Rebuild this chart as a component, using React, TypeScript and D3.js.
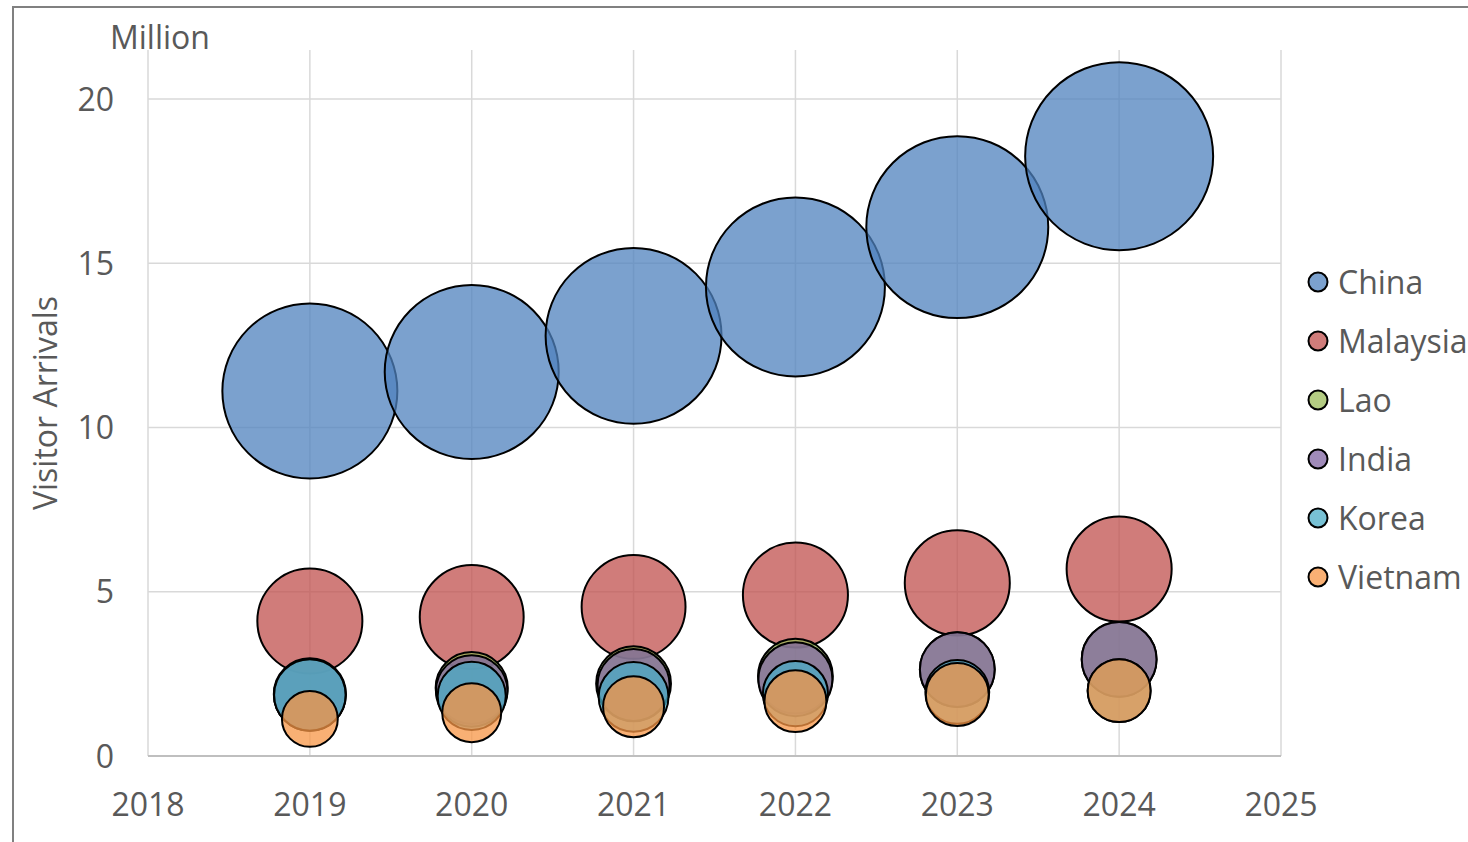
import React from 'react';
import * as d3 from 'd3';

const years = [2019, 2020, 2021, 2022, 2023, 2024];
const seriesNames = ['China', 'Malaysia', 'Lao', 'India', 'Korea', 'Vietnam'];
const colors = ['#4F81BD', '#C0504D', '#9BBB59', '#8064A2', '#4BACC6', '#F79646'];

// visitor arrivals, million
const china = [11.11, 11.69, 12.79, 14.28, 16.1, 18.26];
const malaysia = [4.11, 4.23, 4.54, 4.9, 5.27, 5.69];
const lao = [1.88, 2.07, 2.2, 2.43, 2.63, 2.94];
const india = [1.86, 1.98, 2.16, 2.34, 2.63, 2.94];
const korea = [1.86, 1.83, 1.8, 1.9, 1.95, 1.99];
const vietnam = [1.13, 1.32, 1.5, 1.67, 1.87, 1.99];

// bubble sizes
const chinaSize = [76.6, 75.7, 77.4, 80.1, 82.8, 88.4];
const malaysiaSize = [27.6, 27.0, 27.0, 27.6, 27.6, 27.6];
const laoSize = [13.0, 13.0, 14.0, 14.0, 14.0, 14.0];
const indiaSize = [12.8, 12.8, 13.0, 13.7, 14.0, 14.0];
const koreaSize = [12.8, 11.6, 12.2, 10.6, 10.2, 9.9];
const vietnamSize = [7.8, 8.7, 9.3, 9.6, 9.9, 9.9];

const values = [china, malaysia, lao, india, korea, vietnam];
const sizes = [chinaSize, malaysiaSize, laoSize, indiaSize, koreaSize, vietnamSize];

const xTicks = [2018, 2019, 2020, 2021, 2022, 2023, 2024, 2025];
const yTicks = [0, 5, 10, 15, 20];

const W = 1468;
const H = 842;
const font = '"Open Sans", sans-serif';
const textColor = '#595959';

export default function App() {
  const x = d3.scaleLinear().domain([2018, 2025]).range([148, 1281]);
  const y = d3.scaleLinear().domain([0, 20]).range([756, 99]);
  const maxSize = d3.max(sizes.flat()) as number;
  const r = d3.scaleSqrt().domain([0, maxSize]).range([0, 94]);
  const plotTop = 50;

  return (
    <svg width={W} height={H} style={{ position: 'absolute', left: 0, top: 0, background: '#fff' }}>
      {/* frame */}
      <path d={`M13,${H} L13,7 L${W},7`} fill="none" stroke="#808080" strokeWidth={2} />

      {/* gridlines */}
      {xTicks.map(t => (
        <line key={'vx' + t} x1={x(t)} x2={x(t)} y1={plotTop} y2={y(0)} stroke="#d9d9d9" strokeWidth={1.5} />
      ))}
      {yTicks.filter(t => t > 0).map(t => (
        <line key={'hy' + t} x1={x(2018)} x2={x(2025)} y1={y(t)} y2={y(t)} stroke="#d9d9d9" strokeWidth={1.5} />
      ))}
      <line x1={x(2018)} x2={x(2025)} y1={y(0)} y2={y(0)} stroke="#bfbfbf" strokeWidth={2} />

      {/* tick labels */}
      {yTicks.map(t => (
        <text key={'yl' + t} x={114} y={y(t)} dy="0.36em" textAnchor="end" fontFamily={font} fontSize={32} fill={textColor}>
          {t}
        </text>
      ))}
      {xTicks.map(t => (
        <text key={'xl' + t} x={x(t)} y={816} textAnchor="middle" fontFamily={font} fontSize={32} fill={textColor}>
          {t}
        </text>
      ))}
      <text x={110} y={49} fontFamily={font} fontSize={32} fill={textColor}>Million</text>
      <text
        transform={`translate(57,403) rotate(-90)`}
        textAnchor="middle"
        fontFamily={font}
        fontSize={32}
        fill={textColor}
      >
        Visitor Arrivals
      </text>

      {/* bubbles */}
      {seriesNames.map((name, si) => (
        <g key={name}>
          {years.map((yr, i) => (
            <circle
              key={yr}
              cx={x(yr)}
              cy={y(values[si][i])}
              r={r(sizes[si][i])}
              fill={colors[si]}
              fillOpacity={0.75}
              stroke="#000"
              strokeWidth={2}
            />
          ))}
        </g>
      ))}

      {/* legend */}
      {seriesNames.map((name, si) => (
        <g key={'lg' + name} transform={`translate(1318,${282 + si * 59})`}>
          <circle r={9.5} fill={colors[si]} fillOpacity={0.75} stroke="#000" strokeWidth={2} />
          <text x={20} dy="0.36em" fontFamily={font} fontSize={32} fill={textColor}>{name}</text>
        </g>
      ))}
    </svg>
  );
}
